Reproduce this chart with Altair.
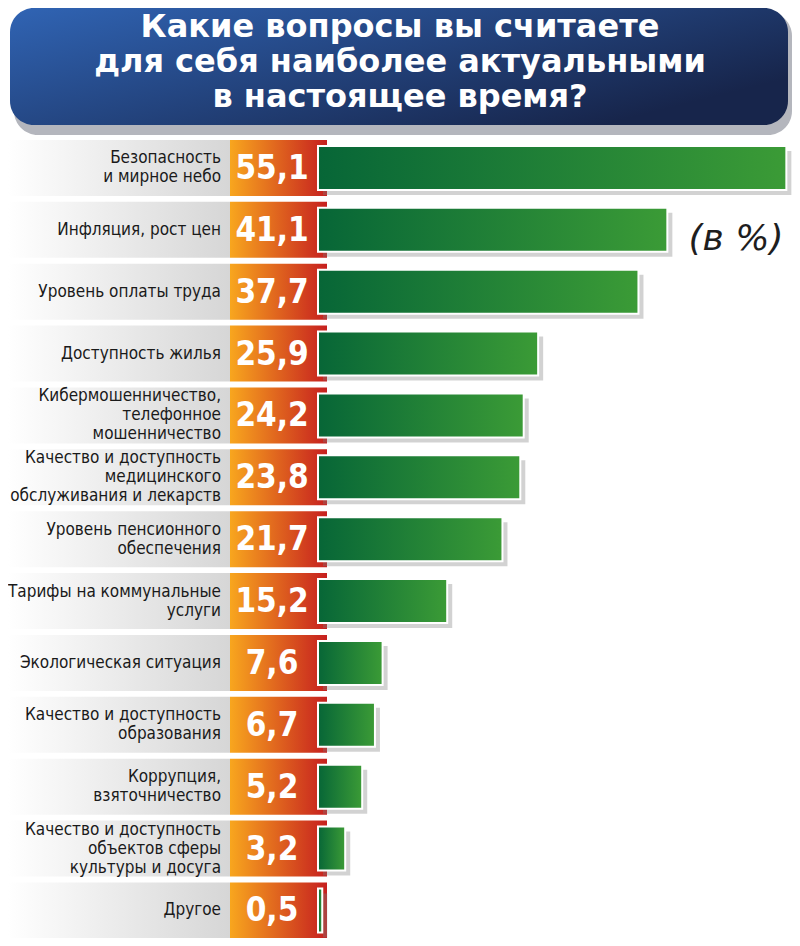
import pandas as pd
import altair as alt

# survey answers, top to bottom
labels = [
    "Безопасность\nи мирное небо",
    "Инфляция, рост цен",
    "Уровень оплаты труда",
    "Доступность жилья",
    "Кибермошенничество,\nтелефонное\nмошенничество",
    "Качество и доступность\nмедицинского\nобслуживания и лекарств",
    "Уровень пенсионного\nобеспечения",
    "Тарифы на коммунальные\nуслуги",
    "Экологическая ситуация",
    "Качество и доступность\nобразования",
    "Коррупция,\nвзяточничество",
    "Качество и доступность\nобъектов сферы\nкультуры и досуга",
    "Другое",
]
values = [55.1, 41.1, 37.7, 25.9, 24.2, 23.8, 21.7, 15.2, 7.6, 6.7, 5.2, 3.2, 0.5]
title_lines = ["Какие вопросы вы считаете", "для себя наиболее актуальными", "в настоящее время?"]
unit_note = "(в %)"

W, H = 784, 930
PX_PER_UNIT = 8.5
ZERO_X = 310
LINE_H = 19

donnees = pd.DataFrame({"question": labels, "valeur": values})
donnees["valeur_str"] = donnees["valeur"].map(lambda v: f"{v:.1f}".replace(".", ","))
donnees["nlignes"] = donnees["question"].str.count("\n") + 1

x_scale = alt.Scale(domain=[-ZERO_X / PX_PER_UNIT, (W - ZERO_X) / PX_PER_UNIT], range=[0, W], nice=False, zero=False)
y_scale = alt.Scale(domain=labels, range=[129.06, 129.06 + 13 * 61.875], paddingInner=0, paddingOuter=0)
y_enc = alt.Y("question:N", sort=None, scale=y_scale, axis=None)

one = pd.DataFrame({"a": [0]})


def grad(c0, c1, x2=1, y2=0):
    return alt.Gradient(
        gradient="linear",
        stops=[alt.GradientStop(offset=0, color=c0), alt.GradientStop(offset=1, color=c1)],
        x1=0, x2=x2, y1=0, y2=y2,
    )


# title box
title_shadow = alt.Chart(one).mark_rect(cornerRadius=24, color="#b4b6bd").encode(
    x=alt.value(6), x2=alt.value(784), y=alt.value(4), y2=alt.value(127)
)
title_box = alt.Chart(one).mark_rect(cornerRadius=24, fill=grad("#3064b4", "#17254b", 1, 0.6)).encode(
    x=alt.value(2), x2=alt.value(780), y=alt.value(0), y2=alt.value(117)
)
title_text = alt.Chart(pd.DataFrame({"t": ["\n".join(title_lines)]})).mark_text(
    font="DejaVu Sans", fontSize=32, fontWeight="bold", color="white",
    align="center", baseline="alphabetic", lineBreak="\n", lineHeight=35,
).encode(text="t:N", x=alt.value(392), y=alt.value(29))

base = alt.Chart(donnees)

bande = base.mark_bar(size=56, fill=grad("#ffffff", "#d6d6d6")).encode(
    y=y_enc, x=alt.value(0), x2=alt.value(222)
)
boite = base.mark_bar(size=56, fill=grad("#f8a61e", "#c6201f")).encode(
    y=y_enc, x=alt.value(222), x2=alt.value(319)
)
ombre = base.mark_bar(size=44, color="#7d7d7d", opacity=0.35, xOffset=5, yOffset=5).encode(
    y=y_enc, x=alt.X("valeur:Q", scale=x_scale, axis=None)
)
barres = base.mark_bar(size=44, fill=grad("#076637", "#3b9b36"), stroke="white", strokeWidth=2).encode(
    y=y_enc, x=alt.X("valeur:Q", scale=x_scale, axis=None)
)
chiffres = base.mark_text(
    font="DejaVu Sans Condensed", fontSize=33, fontWeight="bold", color="white",
    align="center", baseline="middle", dy=1,
).encode(y=y_enc, x=alt.value(264), text="valeur_str:N")

# labels: one layer per line count so that each block is centred on its row
etiquettes = [
    base.mark_text(
        font="DejaVu Sans Condensed", fontSize=17, color="#1a1a1a",
        align="right", baseline="middle", lineBreak="\n", lineHeight=LINE_H,
        dy=-(n - 1) * LINE_H / 2,
    ).encode(y=y_enc, x=alt.value(213), text="question:N").transform_filter(alt.datum.nlignes == n)
    for n in (1, 2, 3)
]

note = alt.Chart(pd.DataFrame({"t": [unit_note]})).mark_text(
    font="DejaVu Sans", fontSize=36, fontStyle="italic", color="#1e1e1e",
    align="center", baseline="middle",
).encode(text="t:N", x=alt.value(728), y=alt.value(231))

chart = alt.layer(
    title_shadow, title_box, title_text,
    bande, boite, ombre, barres, chiffres, *etiquettes, note,
).properties(
    width=W, height=H, autosize=alt.AutoSizeParams(type="none"), padding=0, background="white"
).configure_view(stroke=None)

chart.save("out.html", embed_options={"renderer": "svg", "actions": False})
